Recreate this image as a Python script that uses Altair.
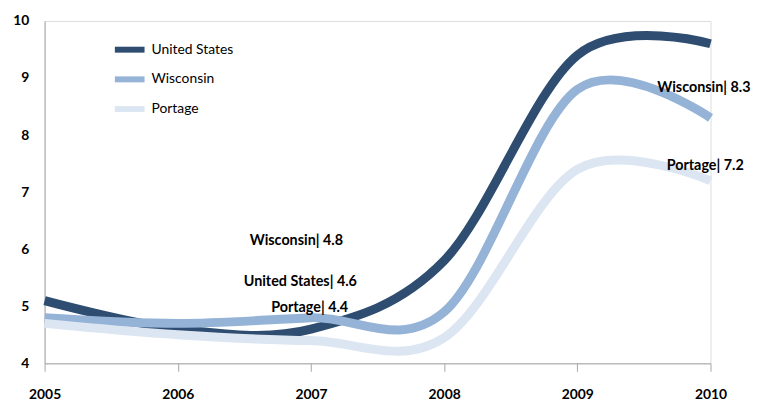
import altair as alt
import pandas as pd

years = [2005, 2006, 2007, 2008, 2009, 2010]
us = [5.1, 4.6, 4.6, 5.8, 9.4, 9.6]
wisconsin = [4.8, 4.7, 4.8, 4.9, 8.8, 8.3]
portage = [4.7, 4.5, 4.4, 4.45, 7.4, 7.2]
series_names = ["United States", "Wisconsin", "Portage"]
series_colors = ["#2E4D70", "#95B3D7", "#DCE6F2"]

ann_text = ["Wisconsin| 4.8", "United States| 4.6", "Portage| 4.4", "Wisconsin| 8.3", "Portage| 7.2"]
ann_x = [2006.89, 2006.92, 2006.99, 2009.95, 2009.96]
ann_y = [6.15, 5.42, 4.97, 8.82, 7.45]

rows = []
for name, vals in zip(series_names, [us, wisconsin, portage]):
    for yr, v in zip(years, vals):
        rows.append({"year": yr, "rate": v, "series": name})
df = pd.DataFrame(rows)
ann = pd.DataFrame({"text": ann_text, "x": ann_x, "y": ann_y})

FONT = "Lato"

xscale = alt.Scale(domain=[2005, 2010], nice=False, zero=False)
yscale = alt.Scale(domain=[4, 10], nice=False, zero=False)

lines = alt.Chart(df).mark_line(interpolate="cardinal", strokeWidth=9, strokeCap="butt").encode(
    x=alt.X("year:Q", scale=xscale,
            axis=alt.Axis(values=years, format="d", title=None, grid=False,
                          domainColor="#A6A6A6", tickColor="#A6A6A6", tickSize=8,
                          labelFont=FONT, labelFontSize=14, labelFontWeight="bold",
                          labelColor="#000000", labelPadding=17, labelFlush=False)),
    y=alt.Y("rate:Q", scale=yscale,
            axis=alt.Axis(values=[4, 5, 6, 7, 8, 9, 10], format="d", title=None, grid=False,
                          ticks=False, domainColor="#A6A6A6", labelFont=FONT, labelFontSize=14,
                          labelFontWeight="bold", labelColor="#000000", labelPadding=16)),
    color=alt.Color("series:N",
                    scale=alt.Scale(domain=series_names, range=series_colors),
                    sort=series_names,
                    legend=alt.Legend(title=None, orient="none", legendX=68, legendY=11,
                                      symbolType="stroke", symbolStrokeWidth=6, symbolSize=900,
                                      labelFont=FONT, labelFontSize=14, labelColor="#000000",
                                      labelOffset=4, rowPadding=-1)),
    detail="series:N",
)

labels = alt.Chart(ann).mark_text(font=FONT, fontSize=14.5, fontWeight="bold",
                                   color="#000000", align="center", baseline="middle").encode(
    x=alt.X("x:Q", scale=xscale),
    y=alt.Y("y:Q", scale=yscale),
    text="text:N",
)

chart = alt.layer(lines, labels).properties(
    width=673, height=346,
    padding={"left": 37, "top": 11, "right": 50, "bottom": 42},
    autosize=alt.AutoSizeParams(type="none"),
).configure_view(stroke=None).configure(background="#ffffff")

chart.save("out.html", embed_options={"renderer": "svg", "actions": False})
